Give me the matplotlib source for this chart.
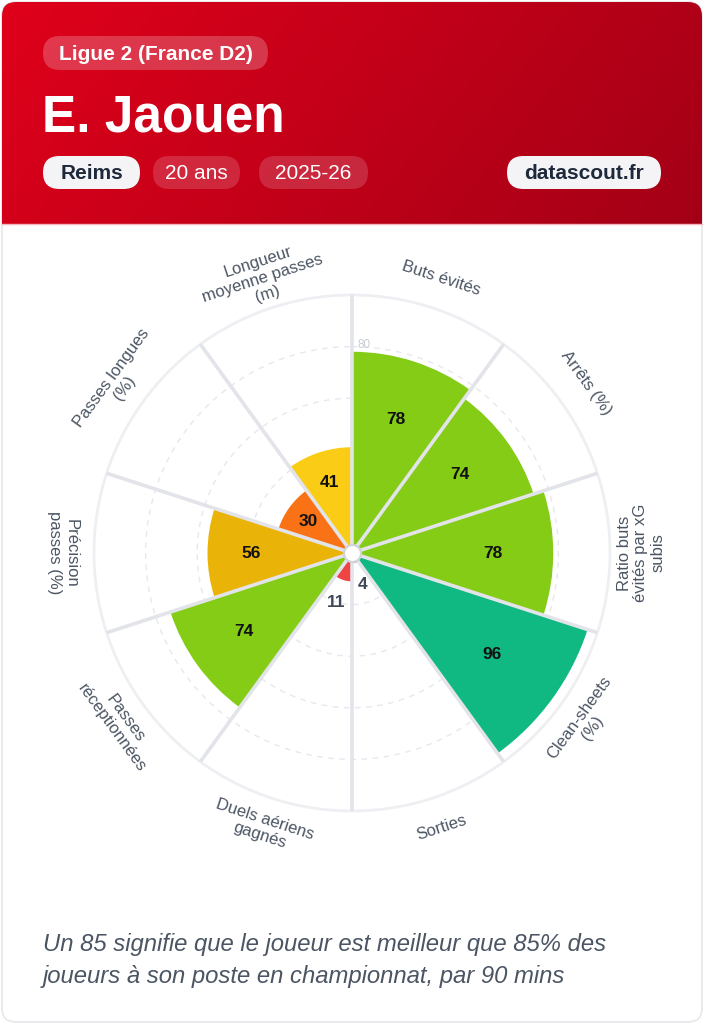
import numpy as np
import matplotlib
matplotlib.use("Agg")
import matplotlib.pyplot as plt
from matplotlib.patches import FancyBboxPatch

plt.rcParams['font.family'] = ['Liberation Sans', 'DejaVu Sans']

# ---------------- data ----------------
categories = [
    "Buts évités",
    "Arrêts (%)",
    "Ratio buts\névités par xG\nsubis",
    "Clean-sheets\n(%)",
    "Sorties",
    "Duels aériens\ngagnés",
    "Passes\nréceptionnées",
    "Précision\npasses (%)",
    "Passes longues\n(%)",
    "Longueur\nmoyenne passes\n(m)",
]
values = [78, 74, 78, 96, 4, 11, 74, 56, 30, 41]
bar_colors = ["#84cc16", "#84cc16", "#84cc16", "#10b981", "#ef4444",
              "#ef4444", "#84cc16", "#eab308", "#f97316", "#facc15"]
ring_values = [20, 40, 60, 80]
tick_label = "80"

league = "Ligue 2 (France D2)"
player = "E. Jaouen"
club = "Reims"
age = "20 ans"
season = "2025-26"
site = "datascout.fr"
footer = ("Un 85 signifie que le joueur est meilleur que 85% des\n"
          "joueurs à son poste en championnat, par 90 mins")

W, H = 704, 1024
fig = plt.figure(figsize=(W / 100, H / 100), dpi=100)
fig.patch.set_facecolor("white")

# ---------------- background / card ----------------
bg = fig.add_axes([0, 0, 1, 1])
bg.set_xlim(0, W)
bg.set_ylim(H, 0)
bg.axis("off")

card = FancyBboxPatch((2, 2), 700, 1020, boxstyle="round,pad=0,rounding_size=14",
                      fc="white", ec="#e5e7eb", lw=1.2, zorder=0)
bg.add_patch(card)

# header gradient
gx = np.linspace(0, 1, 300)
gy = np.linspace(0, 1, 100)
GX, GY = np.meshgrid(gx, gy)
t = np.clip(0.8 * GX + 0.2 * GY, 0, 1)
c0 = np.array([224, 0, 27]) / 255
c1 = np.array([163, 0, 22]) / 255
img = c0[None, None, :] * (1 - t[..., None]) + c1[None, None, :] * t[..., None]
im = bg.imshow(img, extent=(2, 702, 224, 2), origin="upper", aspect="auto",
               zorder=1, interpolation="bilinear")
clip_card = FancyBboxPatch((2, 2), 700, 1020, boxstyle="round,pad=0,rounding_size=14",
                           fc="none", ec="none", transform=bg.transData)
im.set_clip_path(clip_card)
bg.plot([2, 702], [224, 224], color="#f2b8c0", lw=1, zorder=2)
bg.set_xlim(0, W)
bg.set_ylim(H, 0)


def pill(x0, x1, y0, y1, fc, alpha, text, tcolor, weight):
    p = FancyBboxPatch((x0, y0), x1 - x0, y1 - y0,
                       boxstyle="round,pad=0,rounding_size=%f" % ((y1 - y0) / 2),
                       fc=fc, ec="none", alpha=alpha, zorder=3)
    bg.add_patch(p)
    bg.text((x0 + x1) / 2, (y0 + y1) / 2 + 1, text, ha="center", va="center",
            color=tcolor, fontsize=15, fontweight=weight, zorder=4)


pill(43, 268, 36, 70, "white", 0.22, league, "white", "bold")
bg.text(42, 131, player, ha="left", va="baseline", color="white",
        fontsize=37, fontweight="bold", zorder=4)
pill(43, 140, 156, 189, "#f4f4f7", 1.0, club, "#1e293b", "bold")
pill(153, 240, 156, 189, "white", 0.16, age, "white", "normal")
pill(259, 368, 156, 189, "white", 0.16, season, "white", "normal")
pill(507, 661, 156, 189, "#f4f4f7", 1.0, site, "#1e293b", "bold")

bg.text(43, 960, footer, ha="left", va="center", color="#4b5563",
        fontsize=17.2, fontstyle="italic", linespacing=1.5, zorder=4)

# ---------------- polar chart ----------------
cx, cy, R = 352, 553, 258
ax = fig.add_axes([(cx - R) / W, (H - cy - R) / H, 2 * R / W, 2 * R / H],
                  projection="polar")
ax.set_facecolor("none")
ax.set_theta_zero_location("N")
ax.set_theta_direction(-1)
ax.set_ylim(0, 100)
ax.set_axis_off()

n = len(values)
step = 2 * np.pi / n
centers = np.arange(n) * step + step / 2

th = np.linspace(0, 2 * np.pi, 500)
for r in ring_values:
    ax.plot(th, np.full_like(th, r), color="#e6e8ec", lw=1,
            ls=(0, (4, 4)), zorder=1, clip_on=False)
ax.plot(th, np.full_like(th, 100), color="#eeeff2", lw=2, zorder=1, clip_on=False)

ax.bar(centers, values, width=step, bottom=0, color=bar_colors,
       edgecolor="none", zorder=2)

for i in range(n):
    a = i * step
    ax.plot([a, a], [0, 100], color="#e2e4ea", lw=2.6, zorder=3,
            solid_capstyle="butt", clip_on=False)

ax.scatter([0], [0], s=150, color="white", edgecolors="#d1d5db",
           linewidths=1.6, zorder=6, clip_on=False)

ax.text(np.deg2rad(1.6), 80.6, tick_label, ha="left", va="center",
        color="#c8cdd6", fontsize=8.5, zorder=4)

for c, v in zip(centers, values):
    if v >= 20:
        ax.text(c, v * 0.7, str(v), ha="center", va="center", color="#111111",
                fontsize=12.5, fontweight="bold", zorder=5)
    else:
        ax.text(c, v + 9, str(v), ha="center", va="center", color="#3f4857",
                fontsize=12.5, fontweight="bold", zorder=5)

for c, lab in zip(centers, categories):
    tdeg = np.rad2deg(c)
    if 90 - 1e-6 <= tdeg <= 270 + 1e-6:
        rot = 180 - tdeg
    else:
        rot = -tdeg
    ax.text(c, 112, lab, ha="center", va="center", rotation=rot,
            rotation_mode="anchor", color="#4b5563", fontsize=12,
            linespacing=1.15, multialignment="center", zorder=5)

fig.savefig("out.png", dpi=100, facecolor="white")
